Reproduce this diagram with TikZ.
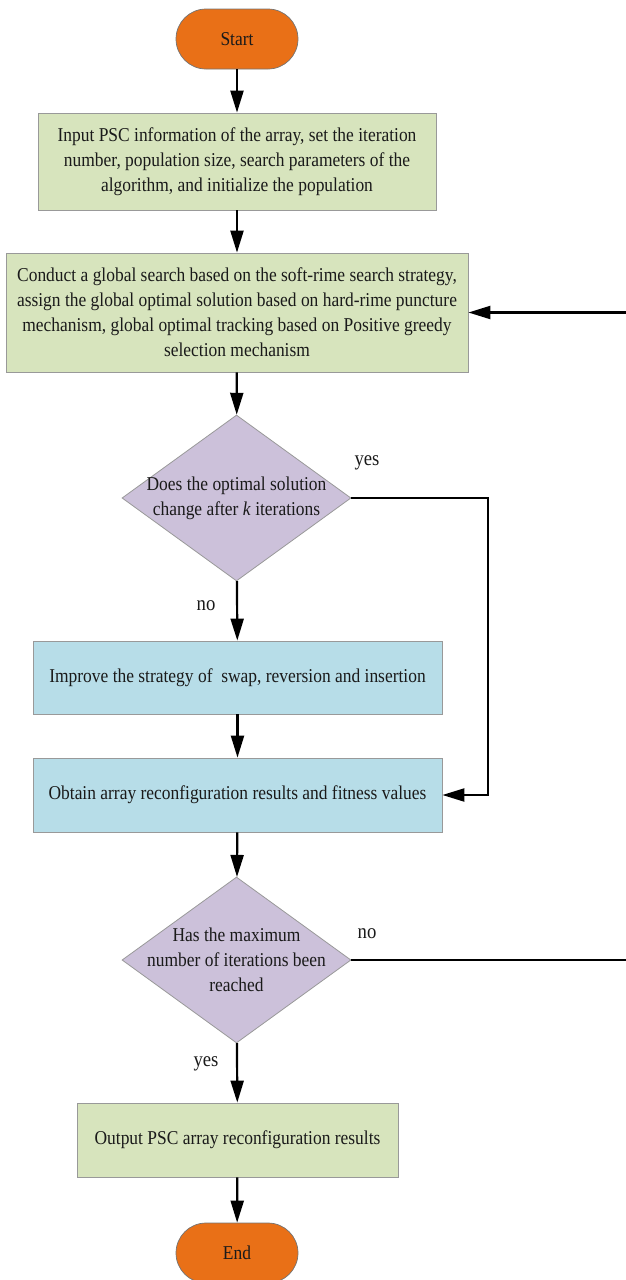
\documentclass[tikz,border=0pt]{standalone}
\usepackage{fontspec}
\setmainfont{Liberation Serif}[FakeStretch=0.89]
\usetikzlibrary{shapes.geometric,arrows.meta}
\newcommand\myfs{\fontsize{19.6}{25}\selectfont}
\definecolor{termc}{HTML}{E97017}
\definecolor{greenc}{HTML}{D7E4BD}
\definecolor{bluec}{HTML}{B7DDE8}
\definecolor{purplec}{HTML}{CCC1DA}
\definecolor{txtc}{HTML}{1A1A1A}
\begin{document}
\begin{tikzpicture}[x=1pt,y=-1pt,
  every node/.style={text=txtc},
  term/.style={draw=black!55, line width=0.7pt, fill=termc, rounded corners=30pt,
    minimum width=122pt, minimum height=60pt, inner sep=0pt, font=\myfs},
  gbox/.style={draw=black!40, line width=0.8pt, fill=greenc, inner sep=0pt, align=center, font=\myfs},
  bbox/.style={draw=black!40, line width=0.8pt, fill=bluec, inner sep=0pt, align=center, font=\myfs},
  dia/.style={draw=black!40, line width=0.8pt, fill=purplec, diamond, inner sep=0pt,
    minimum width=229pt, minimum height=166pt},
  dtext/.style={align=center, font=\myfs, inner sep=0pt},
  lbl/.style={font=\fontsize{21}{22}\selectfont, inner sep=0pt},
  arr/.style={line width=2.2pt, draw=black, -{Triangle[length=22pt,width=13pt]}}
]
\useasboundingbox (0,0) rectangle (626,1280);

\node[term] (start) at (237,39) {Start};
\node[gbox, minimum width=398pt, minimum height=97pt] (b1) at (237,161.5)
  {Input PSC information of the array, set the iteration\\
   number, population size, search parameters of the\\
   algorithm, and initialize the population};
\node[gbox, minimum width=462pt, minimum height=119pt] (b2) at (237,312.5)
  {Conduct a global search based on the soft-rime search strategy,\\
   assign the global optimal solution based on hard-rime puncture\\
   mechanism, global optimal tracking based on Positive greedy\\
   selection mechanism};
\node[dia] (d1) at (236.5,498) {};
\node[dtext] (d1t) at (236.5,498) {Does the optimal solution\\change after \textit{k} iterations};
\node[bbox, minimum width=409pt, minimum height=73pt] (b3) at (237.5,677.5)
  {Improve the strategy of~ swap, reversion and insertion};
\node[bbox, minimum width=409pt, minimum height=74pt] (b4) at (237.5,795)
  {Obtain array reconfiguration results and fitness values};
\node[dia, minimum height=166pt] (d2) at (236.5,960) {};
\node[dtext] (d2t) at (236.5,960) {Has the maximum\\number of iterations been\\reached};
\node[gbox, minimum width=321pt, minimum height=74pt] (b5) at (237.5,1140)
  {Output PSC array reconfiguration results};
\node[term] (end) at (237,1253) {End};

\node[lbl] (yes1) at (367,463) {yes};
\node[lbl] (no1) at (206,606) {no};
\node[lbl] (no2) at (367,934) {no};
\node[lbl] (yes2) at (206,1064) {yes};

\coordinate (r1) at (488,498);
\coordinate (r2) at (645,960);

\draw[arr] (start) -- (b1);
\draw[arr] (b1) -- (b2);
\draw[arr] (b2) -- (d1);
\draw[arr] (d1) -- (b3);
\draw[arr] (b3) -- (b4);
\draw[arr] (b4) -- (d2);
\draw[arr] (d2) -- (b5);
\draw[arr] (b5) -- (end);
\draw[arr] (d1.east) -- (r1) |- (b4.east);
\draw[arr] (d2.east) -- (r2) |- (b2.east);
\end{tikzpicture}
\end{document}
